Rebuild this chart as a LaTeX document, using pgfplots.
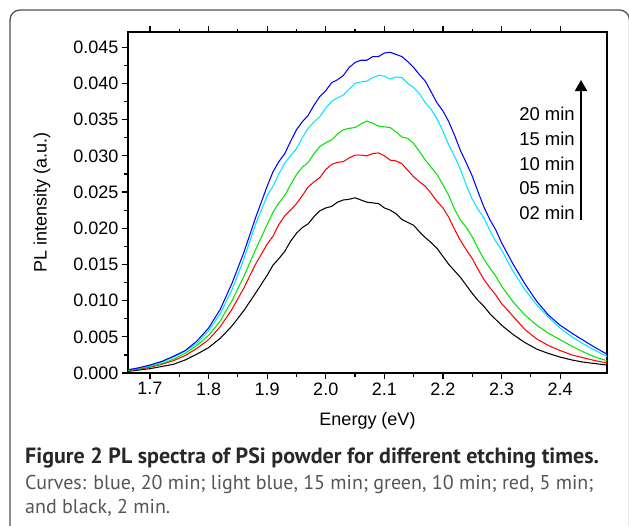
\documentclass[border=0pt]{standalone}
\usepackage{pgfplots}
\pgfplotsset{compat=1.18}
\usepackage{pgfplotstable}
\usepackage{fontspec}
\setmainfont{Liberation Sans}
\newfontfamily\capfont{PT Sans}
\usetikzlibrary{arrows.meta}
\definecolor{cyanline}{RGB}{0,230,255}
\definecolor{greenline}{RGB}{0,230,0}
\definecolor{capbold}{RGB}{40,40,40}
\definecolor{capreg}{RGB}{85,85,85}
\definecolor{framecol}{RGB}{80,80,80}

\pgfplotstableread{
E     b       c       g       r       k
1.66  0.0004  0.0004  0.0003  0.0003  0.0002
1.68  0.0007  0.0007  0.0006  0.0005  0.0004
1.70  0.0011  0.0010  0.0009  0.0008  0.0006
1.72  0.0016  0.0015  0.0013  0.0012  0.0009
1.74  0.0023  0.0022  0.0019  0.0017  0.0012
1.76  0.0031  0.0030  0.0027  0.0024  0.0018
1.78  0.0044  0.0041  0.0038  0.0034  0.0026
1.80  0.0062  0.0058  0.0052  0.0046  0.0035
1.82  0.0088  0.0082  0.0072  0.0064  0.0048
1.84  0.0124  0.0115  0.0100  0.0088  0.0065
1.86  0.0166  0.0157  0.0133  0.0117  0.0086
1.88  0.0214  0.0205  0.0170  0.0150  0.0110
1.90  0.0258  0.0245  0.0205  0.0178  0.0135
1.91  0.0278  0.0258  0.0222  0.0189  0.0149
1.92  0.0292  0.0275  0.0235  0.0205  0.0158
1.93  0.0303  0.0290  0.0245  0.0217  0.0168
1.94  0.0320  0.0300  0.0260  0.0225  0.0182
1.95  0.0336  0.0310  0.0274  0.0234  0.0193
1.96  0.0347  0.0325  0.0284  0.0245  0.0201
1.97  0.0356  0.0338  0.0291  0.0257  0.0206
1.98  0.0370  0.0347  0.0303  0.0264  0.0216
1.99  0.0382  0.0354  0.0313  0.0270  0.0224
2.00  0.0390  0.0366  0.0318  0.0281  0.0228
2.01  0.0401  0.0375  0.0322  0.0288  0.0230
2.02  0.0405  0.0380  0.0330  0.0291  0.0236
2.03  0.0411  0.0384  0.0336  0.0292  0.0239
2.04  0.0422  0.0392  0.0338  0.0297  0.0240
2.05  0.0429  0.0400  0.0339  0.0301  0.0242
2.06  0.0432  0.0402  0.0344  0.0301  0.0239
2.07  0.0432  0.0403  0.0348  0.0300  0.0236
2.08  0.0437  0.0408  0.0345  0.0303  0.0235
2.09  0.0437  0.0411  0.0341  0.0304  0.0234
2.10  0.0442  0.0410  0.0340  0.0300  0.0228
2.11  0.0443  0.0406  0.0339  0.0294  0.0225
2.12  0.0440  0.0409  0.0333  0.0293  0.0220
2.13  0.0437  0.0408  0.0326  0.0289  0.0212
2.14  0.0430  0.0400  0.0324  0.0280  0.0208
2.15  0.0422  0.0394  0.0317  0.0271  0.0204
2.16  0.0412  0.0386  0.0306  0.0264  0.0195
2.17  0.0403  0.0373  0.0294  0.0258  0.0187
2.18  0.0388  0.0364  0.0284  0.0248  0.0180
2.19  0.0373  0.0351  0.0274  0.0237  0.0172
2.20  0.0362  0.0334  0.0260  0.0228  0.0161
2.21  0.0347  0.0315  0.0245  0.0215  0.0150
2.22  0.0328  0.0299  0.0226  0.0198  0.0141
2.23  0.0307  0.0281  0.0211  0.0183  0.0132
2.24  0.0290  0.0259  0.0201  0.0170  0.0121
2.25  0.0272  0.0240  0.0188  0.0158  0.0110
2.26  0.0250  0.0226  0.0172  0.0143  0.0100
2.27  0.0229  0.0214  0.0157  0.0129  0.0092
2.28  0.0212  0.0197  0.0145  0.0118  0.0082
2.29  0.0198  0.0182  0.0134  0.0108  0.0074
2.30  0.0180  0.0170  0.0120  0.0096  0.0066
2.32  0.0150  0.0140  0.0098  0.0078  0.0053
2.34  0.0123  0.0115  0.0080  0.0060  0.0042
2.36  0.0099  0.0094  0.0066  0.0047  0.0033
2.38  0.0080  0.0077  0.0055  0.0038  0.0027
2.40  0.0066  0.0062  0.0046  0.0031  0.0022
2.42  0.0055  0.0050  0.0037  0.0025  0.0018
2.44  0.0045  0.0040  0.0029  0.0021  0.0015
2.46  0.0035  0.0031  0.0022  0.0017  0.0013
2.48  0.0026  0.0023  0.0017  0.0014  0.0011
}\pldata

\begin{document}
\begin{tikzpicture}
\begin{axis}[
  at={(128pt,-373pt)}, anchor=south west,
  width=479pt, height=341pt, scale only axis,
  xmin=1.6625, xmax=2.48, ymin=0, ymax=0.0471,
  xtick={1.7,1.8,...,2.41}, minor x tick num=1,
  ytick={0,0.005,...,0.0451}, minor y tick num=1,
  scaled y ticks=false,
  xtick pos=both, ytick pos=left,
  tick align=outside,
  major tick length=6pt, minor tick length=3.5pt,
  every tick/.style={black, line width=1.2pt},
  axis line style={line width=1.3pt},
  x tick label style={/pgf/number format/.cd, fixed, fixed zerofill, precision=1},
  y tick label style={/pgf/number format/.cd, fixed, fixed zerofill, precision=3},
  /pgf/number format/assume math mode=true,
  ticklabel style={font=\fontsize{18}{20}\selectfont},
  xlabel={Energy (eV)}, ylabel={PL intensity (a.u.)},
  label style={font=\fontsize{18}{20}\selectfont},
  xlabel style={at={(axis description cs:0.5,-0.1554)}, anchor=base},
  ylabel style={at={(axis description cs:-0.1697,0.5)}, anchor=base},
  clip=true,
]
\addplot[black, line width=1.05pt] table[x=E, y=k] {\pldata};
\addplot[red, line width=1.05pt] table[x=E, y=r] {\pldata};
\addplot[greenline, line width=1.05pt] table[x=E, y=g] {\pldata};
\addplot[cyanline, line width=1.05pt] table[x=E, y=c] {\pldata};
\addplot[blue, line width=1.05pt] table[x=E, y=b] {\pldata};
\end{axis}
\begin{scope}[x=1pt, y=-1pt]
  \draw[framecol, line width=1.3pt, rounded corners=10pt] (10,530) -- (10,10) -- (629.5,10) -- (629.5,530);
  \foreach \t/\yy in {20 min/120.7, 15 min/145.3, 10 min/170, 05 min/194.6, 02 min/219.2}
    \node[anchor=base east, inner sep=0pt, font=\fontsize{18.5}{20}\selectfont] at (575,\yy) {\t};
  \draw[black, line width=1.8pt, -{Triangle[length=11pt,width=12pt]}] (581,220) -- (581,80);
  \node[anchor=base west, inner sep=0pt, font=\capfont\bfseries\fontsize{22}{24}\selectfont, text=capbold] at (25,463.3) {Figure 2 PL spectra of PSi powder for different etching times.};
  \node[anchor=base west, inner sep=0pt, font=\capfont\fontsize{20}{24}\selectfont, text=capreg] at (25,489) {Curves: blue, 20 min; light blue, 15 min; green, 10 min; red, 5 min;};
  \node[anchor=base west, inner sep=0pt, font=\capfont\fontsize{20}{24}\selectfont, text=capreg] at (25,513.5) {and black, 2 min.};
  \pgfresetboundingbox
  \path[use as bounding box] (0,0) rectangle (629,525);
\end{scope}
\end{tikzpicture}
\end{document}
